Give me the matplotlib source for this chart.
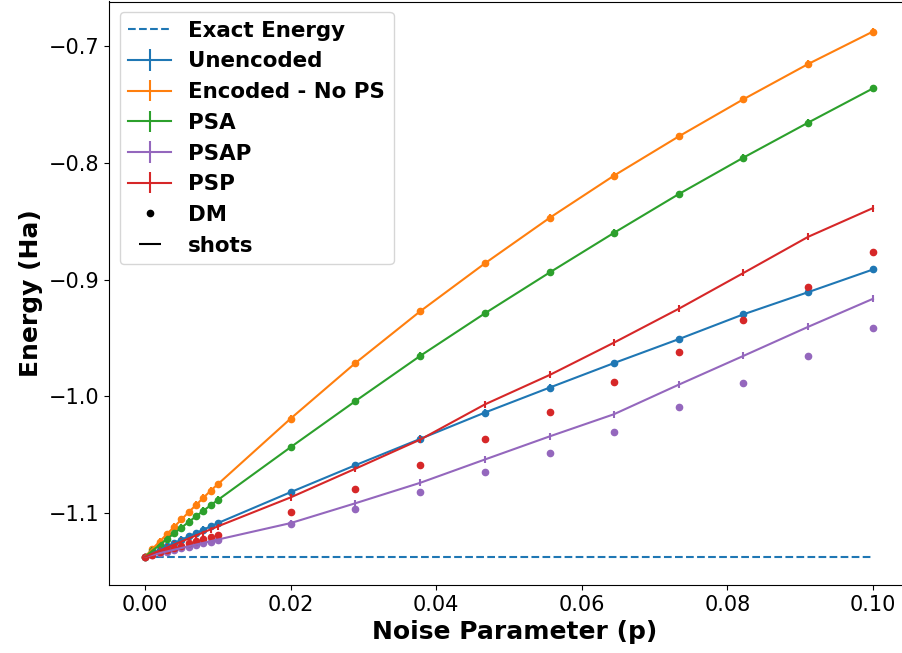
import matplotlib
matplotlib.use('Agg')
import matplotlib.pyplot as plt
from matplotlib.lines import Line2D
import numpy as np

# noise parameter values
p = [0.0, 0.001, 0.002, 0.003, 0.004, 0.005, 0.006, 0.007, 0.008, 0.009, 0.010,
     0.0200, 0.0289, 0.0378, 0.0467, 0.0556, 0.0644, 0.0733, 0.0822, 0.0911, 0.1000]

exact_energy = -1.1373

# shots estimates
unenc_shots = [-1.1373, -1.1343, -1.1314, -1.1285, -1.1256, -1.1227, -1.1199, -1.1170, -1.1142, -1.1113, -1.1085,
               -1.0820, -1.0589, -1.0364, -1.0138, -0.9924, -0.9715, -0.9510, -0.9297, -0.9107, -0.8913]
enc_shots = [-1.1373, -1.1307, -1.1243, -1.1180, -1.1117, -1.1054, -1.0991, -1.0930, -1.0869, -1.0808, -1.0752,
             -1.0190, -0.9714, -0.9271, -0.8860, -0.8470, -0.8110, -0.7774, -0.7455, -0.7153, -0.6875]
psa_shots = [-1.1373, -1.1322, -1.1272, -1.1222, -1.1173, -1.1124, -1.1075, -1.1027, -1.0980, -1.0933, -1.0887,
             -1.0435, -1.0040, -0.9653, -0.9288, -0.8938, -0.8600, -0.8268, -0.7955, -0.7655, -0.7362]
psap_shots = [-1.1373, -1.1358, -1.1343, -1.1328, -1.1313, -1.1298, -1.1284, -1.1269, -1.1255, -1.1240, -1.1226,
              -1.1085, -1.0915, -1.0740, -1.0540, -1.0342, -1.0153, -0.9900, -0.9653, -0.9404, -0.9164]
psp_shots = [-1.1373, -1.1347, -1.1321, -1.1295, -1.1269, -1.1243, -1.1217, -1.1191, -1.1165, -1.1139, -1.1113,
             -1.0865, -1.0619, -1.0370, -1.0068, -0.9816, -0.9540, -0.9250, -0.8943, -0.8633, -0.8387]
shots_err = [0.0, 0.003, 0.003, 0.003, 0.003, 0.003, 0.003, 0.003, 0.003, 0.003, 0.003,
             0.003, 0.003, 0.003, 0.003, 0.003, 0.003, 0.003, 0.003, 0.003, 0.003]

# density matrix results
unenc_dm = [-1.1373, -1.1343, -1.1314, -1.1285, -1.1256, -1.1227, -1.1199, -1.1170, -1.1142, -1.1113, -1.1085,
            -1.0820, -1.0589, -1.0364, -1.0138, -0.9924, -0.9715, -0.9510, -0.9297, -0.9107, -0.8913]
enc_dm = [-1.1373, -1.1307, -1.1243, -1.1180, -1.1117, -1.1054, -1.0991, -1.0930, -1.0869, -1.0808, -1.0752,
          -1.0190, -0.9714, -0.9271, -0.8860, -0.8470, -0.8110, -0.7774, -0.7455, -0.7153, -0.6875]
psa_dm = [-1.1373, -1.1322, -1.1272, -1.1222, -1.1173, -1.1124, -1.1075, -1.1027, -1.0980, -1.0933, -1.0887,
          -1.0435, -1.0040, -0.9653, -0.9288, -0.8938, -0.8600, -0.8268, -0.7955, -0.7655, -0.7362]
psap_dm = [-1.1373, -1.1358, -1.1344, -1.1329, -1.1315, -1.1300, -1.1286, -1.1271, -1.1257, -1.1243, -1.1230,
           -1.1093, -1.0963, -1.0816, -1.0650, -1.0486, -1.0302, -1.0090, -0.9884, -0.9655, -0.9410]
psp_dm = [-1.1373, -1.1354, -1.1335, -1.1316, -1.1297, -1.1278, -1.1259, -1.1240, -1.1221, -1.1202, -1.1184,
          -1.0986, -1.0794, -1.0588, -1.0367, -1.0130, -0.9880, -0.9620, -0.9342, -0.9060, -0.8765]

labels = ['Unencoded', 'Encoded - No PS', 'PSA', 'PSAP', 'PSP']
colors = ['C0', 'C1', 'C2', 'C4', 'C3']
shots = [unenc_shots, enc_shots, psa_shots, psap_shots, psp_shots]
dms = [unenc_dm, enc_dm, psa_dm, psap_dm, psp_dm]

fig = plt.figure(figsize=(9.03, 6.53), dpi=100)
# the original is cropped on the right, so no right spine shows
ax = fig.add_axes([109 / 903, 68 / 653, 811 / 903, 583.5 / 653])
ax.spines['right'].set_visible(False)

handles = []
h, = ax.plot(p, [exact_energy] * len(p), '--', color='C0', label='Exact Energy')
handles.append(h)

for lab, c, s, d in zip(labels, colors, shots, dms):
    eb = ax.errorbar(p, s, yerr=shots_err, color=c, label=lab)
    handles.append(eb)
    ax.plot(p, d, 'o', color=c, ms=4.5)

handles.append(Line2D([], [], color='k', marker='.', linestyle='None', ms=9, label='DM'))
handles.append(Line2D([], [], color='k', marker='_', linestyle='None', ms=16, mew=1.5, label='shots'))

ax.set_xlim(-0.00495, 0.10646)
ax.set_xlabel('Noise Parameter (p)', fontsize=18, fontweight='bold')
ax.set_ylabel('Energy (Ha)', fontsize=18, fontweight='bold')
ax.tick_params(labelsize=15)
ax.legend(handles=handles, loc='upper left', prop={'size': 15.4, 'weight': 'bold'})

fig.savefig('out.png', dpi=100)
